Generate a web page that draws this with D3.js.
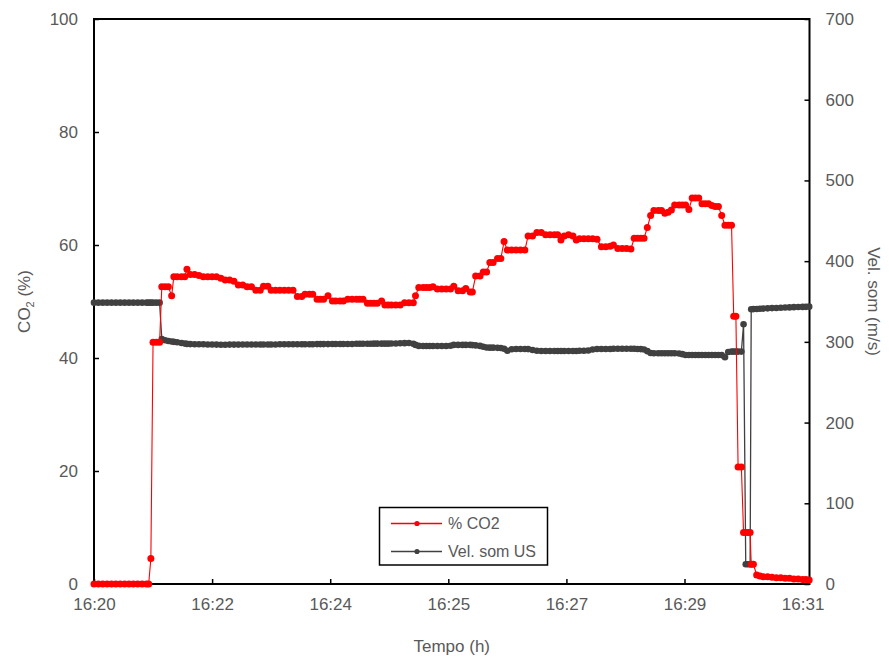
<!DOCTYPE html>
<html>
<head>
<meta charset="utf-8">
<script src="https://cdn.jsdelivr.net/npm/d3@7"></script>
<style>
  html, body { margin: 0; padding: 0; background: #fff; }
  svg { display: block; font-family: "Liberation Sans", Arial, sans-serif; }
</style>
</head>
<body>
<svg id="chart" width="889" height="659"></svg>
<script>
// Seconds after 16:20:00 for each reading
const timeSec = [
  0,4,8,12,16,20,24,28,32,36,40,44,48,50,
  52,54,57,60,62,65,68,71,73,76,80,83,85,88,92,96,
  100,104,108,112,116,120,124,128,132,136,140,144,148,152,155,159,
  162,166,170,174,178,182,186,190,193,197,200,204,207,210,214,218,221,225,228,
  232,236,240,243,246,250,253,256,259,263,266,269,272,276,280,284,288,292,294,
  297,301,304,307,310,314,318,322,326,329,333,337,340,344,346,349,353,
  356,359,362,365,369,372,375,378,382,386,390,394,397,401,405,409,
  413,417,421,424,427,430,434,438,441,444,448,452,456,460,464,468,
  472,475,479,483,487,491,494,497,500,503,506,509,512,516,519,522,
  525,528,531,535,538,541,544,547,550,553,556,559,562,565,568,571,
  574,577,580,583,585,587,589,592,594,596,598,600,601,603,606,609,
  612,616,620,624,628,632,636,640,644,648,651,654
];

// CO2 concentration (%), left axis
const co2 = [
  0,0,0,0,0,0,0,0,0,0,0,0,0,0,
  4.5,42.8,42.8,42.8,52.6,52.6,52.6,51.0,54.4,54.4,54.4,54.4,55.7,54.8,54.8,54.6,
  54.4,54.4,54.4,54.4,54.1,53.8,53.8,53.6,52.9,52.9,52.6,52.6,52.0,52.0,52.7,52.7,
  52.0,52.0,52.0,52.0,52.0,52.0,50.9,50.9,51.3,51.3,51.3,50.4,50.4,50.4,51.0,50.1,50.1,50.1,50.1,
  50.4,50.4,50.4,50.4,50.4,49.7,49.7,49.7,49.7,50.1,49.4,49.4,49.4,49.4,49.4,49.8,49.8,49.8,51.0,
  52.5,52.5,52.5,52.5,52.6,52.2,52.2,52.2,52.2,52.7,51.9,51.9,52.3,51.7,51.7,54.5,54.5,
  55.2,55.2,56.9,56.9,57.6,57.6,60.6,59.1,59.1,59.1,59.1,59.1,61.6,61.6,62.2,62.2,
  61.8,61.8,61.8,61.8,60.9,61.6,61.8,61.6,60.9,61.1,61.1,61.1,61.1,61.0,59.7,59.7,
  59.8,60.0,59.4,59.4,59.4,59.3,61.2,61.2,61.2,61.2,63.1,65.2,66.1,66.1,66.1,65.6,
  65.8,66.2,67.1,67.1,67.1,67.1,66.3,68.3,68.3,68.3,67.3,67.3,67.3,67.0,66.8,66.8,
  65.2,63.5,63.5,63.5,47.4,47.4,20.7,20.7,9.1,9.1,9.1,9.1,3.5,3.5,1.6,1.4,
  1.3,1.3,1.2,1.1,1.1,1.0,1.0,0.9,0.9,0.8,0.8,0.7
];

// Ultrasonic sound speed (m/s), right axis
const velSom = [
  348.6,348.6,348.6,348.6,348.6,348.6,348.6,348.6,348.6,348.6,348.6,348.6,348.6,348.6,
  348.6,348.6,348.6,348.6,303.6,302.0,301.0,300.5,300.0,299.5,298.5,298.0,297.5,297.2,297.0,297.0,
  297.0,296.8,296.8,296.6,296.5,296.5,296.6,296.6,296.6,296.8,296.8,296.8,296.8,296.8,296.8,296.8,
  296.8,296.8,297.0,297.0,297.0,297.0,297.0,297.0,297.0,297.0,297.0,297.2,297.2,297.2,297.2,297.4,297.4,297.4,297.4,
  297.4,297.4,297.6,297.6,297.6,297.6,297.6,297.8,297.8,297.8,297.8,297.8,298.0,298.0,298.2,298.4,298.6,297.6,296.2,
  295.0,294.9,294.9,294.9,294.9,294.9,294.9,294.9,295.2,296.2,296.2,296.2,296.2,296.2,296.0,295.6,295.0,
  294.0,293.0,292.8,292.8,292.6,292.4,291.5,289.0,290.8,291.2,291.2,291.2,291.0,290.0,289.0,288.7,
  288.7,288.7,288.7,288.7,288.7,288.7,288.7,288.7,288.7,288.9,289.0,289.3,290.5,291.2,291.2,291.2,
  291.2,291.4,291.4,291.4,291.4,291.4,291.4,291.2,291.0,290.5,288.5,286.2,285.9,285.9,285.9,285.9,
  285.9,285.9,285.9,285.6,284.8,283.8,283.8,283.8,283.8,283.8,283.8,283.8,283.8,283.8,283.8,283.8,
  283.6,281.0,287.5,287.9,287.9,287.9,287.9,287.9,321.8,24.4,24.4,24.4,340.4,340.6,340.8,341.0,
  341.2,341.5,341.8,342.0,342.2,342.5,342.7,343.0,343.2,343.3,343.4,343.6
];

// Time axis ticks (every 1.8 min from 16:20) and their labels
const timeTicks = [0, 108, 216, 324, 432, 540, 648];
const timeTickLabels = ["16:20", "16:22", "16:24", "16:25", "16:27", "16:29", "16:31"];
const co2Ticks = [0, 20, 40, 60, 80, 100];
const velTicks = [0, 100, 200, 300, 400, 500, 600, 700];

const seriesNames = ["% CO2", "Vel. som US"];
const colors = { co2: "#ff0000", vel: "#404040" };

const svg = d3.select("#chart");
const plot = { left: 94, right: 809.5, top: 19, bottom: 584 };
const textColor = "#595959";

const x = d3.scaleLinear().domain([0, 654.3]).range([plot.left, plot.right]);
const yL = d3.scaleLinear().domain([0, 100]).range([plot.bottom, plot.top]);
const yR = d3.scaleLinear().domain([0, 700]).range([plot.bottom, plot.top]);

const rows = timeSec.map((t, i) => ({ t, co2: co2[i], vel: velSom[i] }));

// Axes (ticks point inward)
const axisFont = 17;
const gL = svg.append("g").attr("transform", `translate(${plot.left},0)`)
  .call(d3.axisLeft(yL).tickValues(co2Ticks).tickSizeInner(-5).tickSizeOuter(0).tickPadding(16));
const gR = svg.append("g").attr("transform", `translate(${plot.right},0)`)
  .call(d3.axisRight(yR).tickValues(velTicks).tickSizeInner(-5).tickSizeOuter(0).tickPadding(16));
const gB = svg.append("g").attr("transform", `translate(0,${plot.bottom})`)
  .call(d3.axisBottom(x).tickValues(timeTicks).tickFormat((d, i) => timeTickLabels[i])
    .tickSizeInner(-5).tickSizeOuter(0).tickPadding(14));

[gL, gR, gB].forEach(g => {
  g.select(".domain").remove();
  g.selectAll(".tick line").attr("stroke", "#000").attr("stroke-width", 1.5);
  g.selectAll(".tick text").attr("font-size", axisFont).attr("font-family", "Liberation Sans, Arial, sans-serif").attr("fill", textColor);
});

// Plot frame
svg.append("rect")
  .attr("x", plot.left).attr("y", plot.top)
  .attr("width", plot.right - plot.left).attr("height", plot.bottom - plot.top)
  .attr("fill", "none").attr("stroke", "#000").attr("stroke-width", 2);

// Series: sound speed first, CO2 on top
function drawSeries(key, yScale, color, lineWidth, r) {
  const line = d3.line().x(d => x(d.t)).y(d => yScale(d[key]));
  svg.append("path").datum(rows)
    .attr("d", line).attr("fill", "none")
    .attr("stroke", color).attr("stroke-width", lineWidth);
  svg.append("g").selectAll("circle").data(rows).join("circle")
    .attr("cx", d => x(d.t)).attr("cy", d => yScale(d[key]))
    .attr("r", r).attr("fill", color);
}
drawSeries("vel", yR, colors.vel, 1.3, 3.3);
drawSeries("co2", yL, colors.co2, 1.1, 3.5);

// Axis titles
svg.append("text")
  .attr("x", (plot.left + plot.right) / 2).attr("y", 652)
  .attr("text-anchor", "middle").attr("font-size", 17).attr("fill", textColor)
  .text("Tempo (h)");

const tL = svg.append("text")
  .attr("transform", `translate(30,${(plot.top + plot.bottom) / 2}) rotate(-90)`)
  .attr("text-anchor", "middle").attr("font-size", 17).attr("fill", textColor);
tL.append("tspan").text("CO");
tL.append("tspan").attr("font-size", 11).attr("dy", 4).text("2");
tL.append("tspan").attr("dy", -4).text(" (%)");

svg.append("text")
  .attr("transform", `translate(868,${(plot.top + plot.bottom) / 2}) rotate(90)`)
  .attr("text-anchor", "middle").attr("font-size", 17).attr("fill", textColor)
  .text("Vel. som (m/s)");

// Legend
const lg = svg.append("g");
lg.append("rect").attr("x", 379.5).attr("y", 507.5).attr("width", 168).attr("height", 57.5)
  .attr("fill", "#fff").attr("stroke", "#000").attr("stroke-width", 1.5);
const legendItems = [
  { name: seriesNames[0], color: colors.co2, y: 523.5 },
  { name: seriesNames[1], color: colors.vel, y: 551.5 }
];
legendItems.forEach(it => {
  lg.append("line").attr("x1", 391).attr("x2", 442).attr("y1", it.y).attr("y2", it.y)
    .attr("stroke", it.color).attr("stroke-width", 1.3);
  lg.append("circle").attr("cx", 417).attr("cy", it.y).attr("r", 2.6).attr("fill", it.color);
  lg.append("text").attr("x", 448).attr("y", it.y + 5.5).attr("font-size", 16)
    .attr("fill", textColor).text(it.name);
});
</script>
</body>
</html>
